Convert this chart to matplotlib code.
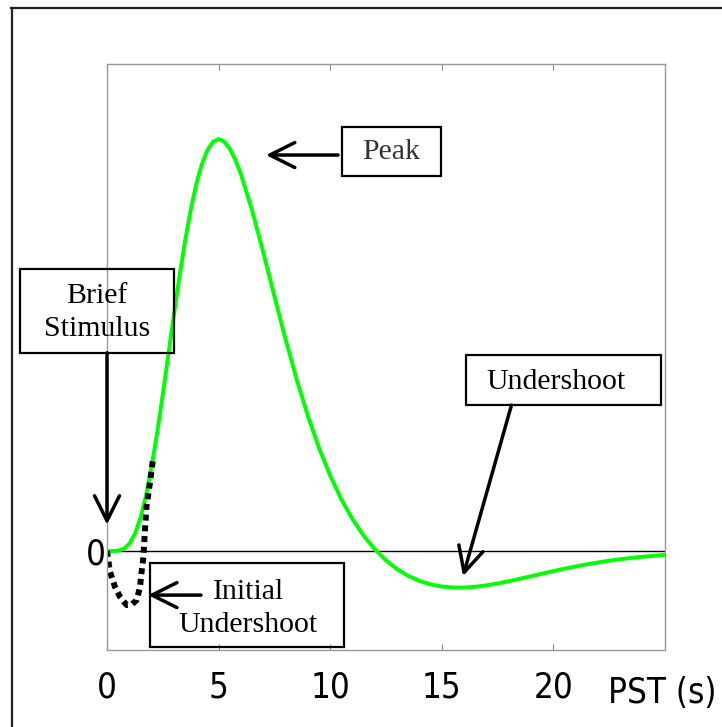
import matplotlib
matplotlib.use('Agg')
import matplotlib.pyplot as plt
from matplotlib.patches import Rectangle
from matplotlib.lines import Line2D

# HRF curve (peak normalised to 1)
t = [0, 0.25, 0.5, 0.75, 1, 1.25, 1.5, 1.75, 2, 2.25, 2.5, 2.75, 3, 3.25, 3.5,
     3.75, 4, 4.25, 4.5, 4.75, 5, 5.25, 5.5, 5.75,
     6, 6.5, 7, 7.5, 8, 8.5, 9, 9.5, 10, 10.5, 11, 11.5, 12, 12.5, 13, 13.5,
     14, 14.5, 15, 15.5, 16, 16.5, 17, 17.5, 18, 18.5, 19, 19.5, 20, 20.5,
     21, 21.5, 22, 22.5, 23, 23.5, 24, 24.5, 25]
hrf = [0, 0.0000, 0.0009, 0.0053, 0.0175, 0.0415, 0.0805, 0.1354, 0.2056,
       0.2886, 0.3806, 0.4774, 0.5745, 0.6676, 0.7531, 0.8281, 0.8906,
       0.9391, 0.9733, 0.9933, 0.9997, 0.9935, 0.9763, 0.9493, 0.9144, 0.8266,
       0.7246, 0.6178, 0.5134, 0.4158, 0.3276, 0.2498, 0.1826, 0.1253, 0.0771,
       0.0369, 0.0038, -0.0229, -0.0442, -0.0606, -0.0727, -0.0811, -0.0863,
       -0.0886, -0.0886, -0.0867, -0.0833, -0.0787, -0.0733, -0.0673, -0.0611,
       -0.0549, -0.0487, -0.0429, -0.0374, -0.0323, -0.0277, -0.0235, -0.0198,
       -0.0166, -0.0138, -0.0114, -0.0094]

# dotted initial dip
t_dip = [0, 0.13, 0.36, 0.58, 0.88, 1.1, 1.33, 1.48, 1.55, 1.63, 1.70, 1.77, 1.9, 2.05]
y_dip = [0, -0.05, -0.087, -0.111, -0.131, -0.13, -0.119, -0.087, -0.05,
         -0.015, 0.051, 0.108, 0.156, 0.218]

xticks = [0, 5, 10, 15, 20]

# labels: text, box (x0, y0, x1, y1), text pos, arrow tail, arrow tip
notes = [
    ('Peak', (10.53, 0.909, 14.96, 1.029), (12.74, 0.968), (10.35, 0.961), (7.12, 0.961)),
    ('Brief\nStimulus', (-3.90, 0.481, 3.00, 0.684), (-0.45, 0.578), (0.0, 0.481), (0.0, 0.064)),
    ('Undershoot', (16.08, 0.354, 24.82, 0.476), (20.12, 0.410), (18.12, 0.354), (15.95, -0.061)),
    ('Initial\nUndershoot', (1.93, -0.233, 10.62, -0.029), (6.32, -0.140), (4.21, -0.107), (1.84, -0.107)),
]

fig = plt.figure(figsize=(7.22, 7.27), dpi=100)
ax = fig.add_axes([0.1482, 0.1066, 0.7729, 0.8054])

ax.axhline(0, color='black', lw=1.0)
ax.plot(t, hrf, color='#00ff00', lw=2.8, solid_capstyle='butt')
ax.plot(t_dip, y_dip, color='black', lw=4.3, dashes=(1, 0.8), dash_capstyle='butt')

ax.set_xlim(0, 25)
ax.set_ylim(-0.239, 1.182)
ax.set_xticks(xticks)
ax.set_yticks([0])
tick_font = dict(family='DejaVu Sans', stretch='condensed', size=25)
ax.set_xticklabels([str(v) for v in xticks], fontdict=tick_font)
ax.set_yticklabels(['0'], fontdict=tick_font)
ax.tick_params(axis='x', direction='in', length=4, width=0.8, color='#888888',
               top=True, pad=15)
ax.tick_params(axis='y', length=0, pad=1)
for s in ax.spines.values():
    s.set_color('#999999')
    s.set_linewidth(1.0)

fig.text(717 / 722, 1 - 693 / 727, 'PST (s)', fontdict=tick_font,
         ha='right', va='center')

serif = ['Liberation Serif', 'DejaVu Serif']
for txt, box, tpos, tail, tip in notes:
    ax.add_patch(Rectangle((box[0], box[1]), box[2] - box[0], box[3] - box[1],
                           fill=False, ec='black', lw=1.6, clip_on=False, zorder=5))
    col = '#333333' if txt == 'Peak' else 'black'
    ax.text(tpos[0], tpos[1], txt, family=serif, fontsize=21.5, color=col,
            ha='center', va='center', linespacing=1.35, zorder=6, clip_on=False)
    ax.annotate('', xy=tip, xytext=tail,
                arrowprops=dict(arrowstyle='->,head_length=0.9,head_width=0.45',
                                lw=2.5, color='black', shrinkA=0, shrinkB=0,
                                mutation_scale=20),
                annotation_clip=False, zorder=6)

# outer frame (top and left edges only)
fig.add_artist(Line2D([11 / 722, 1], [1 - 8 / 727] * 2, color='#222222', lw=1.6))
fig.add_artist(Line2D([12 / 722] * 2, [0, 1 - 8 / 727], color='#222222', lw=1.6))

fig.savefig('out.png', dpi=100, facecolor='white')
